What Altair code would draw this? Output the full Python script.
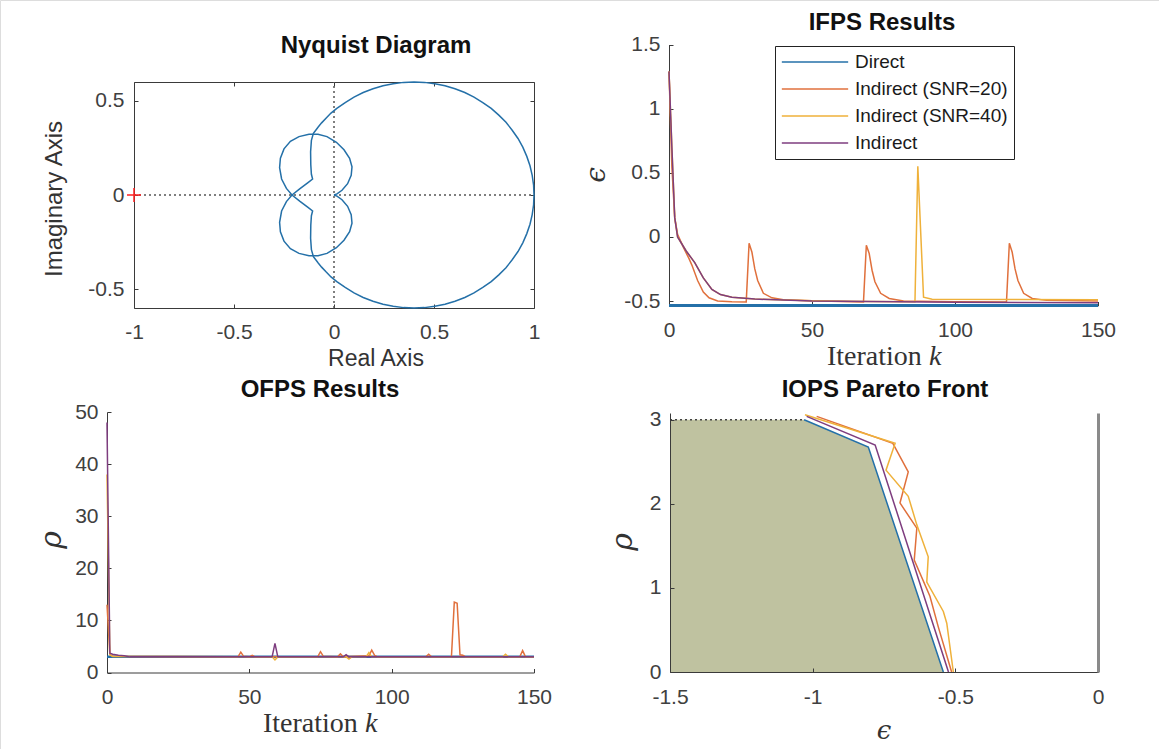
import altair as alt
import pandas as pd

W, H = 1159, 749
FONT = "Liberation Sans"
SERIF = "Liberation Serif"
TICK_COLOR = "#404040"
AX_COLOR = "#3a3a3a"
BLUE = "#2470a8"

# ---------------- data ----------------
series_names = ["Direct", "Indirect (SNR=20)", "Indirect (SNR=40)", "Indirect"]
series_colors = ["#2470a8", "#e0703c", "#efb13a", "#7e3d7f"]

# Nyquist diagram: branch through the lower big loop, then the upper lobe
nyq_re = [1.000, 0.998, 0.991, 0.980, 0.964, 0.944, 0.920, 0.891, 0.860, 0.824,
          0.786, 0.744, 0.700, 0.654, 0.605, 0.555, 0.504, 0.452, 0.400, 0.348,
          0.296, 0.245, 0.195, 0.146, 0.100, 0.056, 0.014, -0.015, -0.040, -0.062,
          -0.080, -0.094, -0.103, -0.113, -0.117, -0.116, -0.113, -0.107, -0.130, -0.170,
          -0.210, -0.238, -0.262, -0.272, -0.268, -0.250, -0.218, -0.175, -0.125, -0.080,
          -0.035, 0.012, 0.050, 0.078, 0.090, 0.086, 0.068, 0.040, 0.015, 0.000]
nyq_im_pos = [0.000, -0.052, -0.104, -0.155, -0.205, -0.254, -0.300, -0.344, -0.386, -0.424,
              -0.460, -0.491, -0.520, -0.544, -0.564, -0.580, -0.591, -0.598, -0.600, -0.598,
              -0.591, -0.580, -0.564, -0.544, -0.520, -0.491, -0.460, -0.435, -0.408, -0.383,
              -0.360, -0.340, -0.327, -0.290, -0.230, -0.160, -0.110, -0.085, -0.066, -0.034,
              0.000, 0.035, 0.085, 0.145, 0.195, 0.245, 0.285, 0.310, 0.322, 0.322,
              0.310, 0.280, 0.240, 0.195, 0.150, 0.105, 0.060, 0.025, 0.006, 0.000]
nyq_im_neg = [0.000, 0.052, 0.104, 0.155, 0.205, 0.254, 0.300, 0.344, 0.386, 0.424,
              0.460, 0.491, 0.520, 0.544, 0.564, 0.580, 0.591, 0.598, 0.600, 0.598,
              0.591, 0.580, 0.564, 0.544, 0.520, 0.491, 0.460, 0.435, 0.408, 0.383,
              0.360, 0.340, 0.327, 0.290, 0.230, 0.160, 0.110, 0.085, 0.066, 0.034,
              0.000, -0.035, -0.085, -0.145, -0.195, -0.245, -0.285, -0.310, -0.322, -0.322,
              -0.310, -0.280, -0.240, -0.195, -0.150, -0.105, -0.060, -0.025, -0.006, 0.000]
crit_re = [-1.0]
crit_im = [0.0]

# IFPS results (epsilon vs iteration)
ifps_direct_k = [0, 150]
ifps_direct_e = [-0.535, -0.535]
ifps_snr20_k = [0, 1, 2, 3, 5, 7, 8, 10, 12, 14, 17, 22, 27, 28, 29, 30, 31, 33, 36, 40,
                50, 60, 68, 69, 70, 71, 72, 74, 77, 82, 100, 118, 119, 120, 121, 122, 124, 127, 132, 150]
ifps_snr20_e = [1.29, 0.55, 0.15, 0.02, -0.08, -0.17, -0.22, -0.34, -0.43, -0.475,
                -0.50, -0.505, -0.507, -0.05, -0.12, -0.25, -0.34, -0.44, -0.475, -0.49,
                -0.498, -0.503, -0.507, -0.065, -0.13, -0.26, -0.35, -0.44, -0.48, -0.50,
                -0.505, -0.508, -0.05, -0.12, -0.25, -0.34, -0.44, -0.48, -0.495, -0.50]
ifps_snr40_k = [0, 1, 2, 3, 6, 9, 12, 15, 18, 22, 30, 50, 70, 86, 87, 89, 92, 150]
ifps_snr40_e = [1.29, 0.7, 0.15, 0.0, -0.11, -0.2, -0.32, -0.41, -0.45, -0.47, -0.485,
                -0.497, -0.503, -0.506, 0.55, -0.47, -0.487, -0.49]
ifps_ind_k = [0, 1, 2, 3, 6, 9, 12, 15, 18, 22, 30, 50, 100, 150]
ifps_ind_e = [1.29, 0.7, 0.15, 0.0, -0.11, -0.2, -0.32, -0.41, -0.45, -0.47, -0.485, -0.5, -0.51, -0.513]

# OFPS results (rho vs iteration)
ofps_direct_k = [0, 150]
ofps_direct_r = [3.0, 3.0]
ofps_snr20_k = [0, 1, 2, 46, 47, 48, 50, 51, 52, 74, 75, 76, 81, 82, 83, 92, 93, 94, 95, 112,
                113, 114, 121, 122, 123, 124, 125, 126, 145, 146, 147, 150]
ofps_snr20_r = [13.0, 3.5, 3.1, 3.0, 3.9, 3.1, 3.0, 3.3, 3.0, 3.0, 4.0, 3.1, 3.0, 3.6, 3.0, 3.2,
                4.3, 3.3, 3.0, 3.0, 3.5, 3.0, 3.0, 13.5, 13.3, 3.4, 3.3, 3.0, 3.0, 4.2, 3.0, 3.0]
ofps_snr40_k = [0, 1, 2, 58, 59, 60, 84, 85, 86, 91, 92, 93, 139, 140, 141, 150]
ofps_snr40_r = [38.0, 3.4, 3.05, 3.0, 2.4, 3.0, 3.0, 2.6, 3.0, 3.0, 3.8, 3.0, 3.0, 3.5, 3.0, 3.0]
ofps_ind_k = [0, 1, 2, 3, 4, 6, 8, 58, 59, 60, 83, 84, 85, 150]
ofps_ind_r = [48.0, 3.7, 3.5, 3.4, 3.3, 3.2, 3.0, 3.0, 5.6, 3.0, 3.0, 3.4, 3.0, 3.0]

# IOPS Pareto front (rho vs epsilon)
iops_fill_e = [-1.5, -1.03, -0.805, -0.542]
iops_fill_r = [3.0, 3.0, 2.675, 0.0]
iops_dot_e = [-1.5, -1.03]
iops_dot_r = [3.0, 3.0]
iops_direct_e = [-1.03, -0.805, -0.542]
iops_direct_r = [3.0, 2.675, 0.0]
iops_snr20_e = [-0.986, -0.719, -0.665, -0.694, -0.635, -0.644, -0.589, -0.56, -0.513]
iops_snr20_r = [3.04, 2.72, 2.38, 2.01, 1.71, 1.33, 0.9, 0.54, 0.0]
iops_snr40_e = [-1.027, -0.711, -0.743, -0.665, -0.635, -0.595, -0.600, -0.542, -0.53, -0.507]
iops_snr40_r = [3.06, 2.72, 2.40, 2.09, 1.75, 1.37, 1.07, 0.72, 0.58, 0.0]
iops_ind_e = [-1.021, -0.781, -0.524]
iops_ind_r = [3.04, 2.70, 0.0]

# tick values
nyq_xt = [-1, -0.5, 0, 0.5, 1]
nyq_yt = [-0.5, 0, 0.5]
ifps_xt = [0, 50, 100, 150]
ifps_yt = [-0.5, 0, 0.5, 1, 1.5]
ofps_xt = [0, 50, 100, 150]
ofps_yt = [0, 10, 20, 30, 40, 50]
iops_xt = [-1.5, -1, -0.5, 0]
iops_yt = [0, 1, 2, 3]


# ---------------- helpers ----------------
def lin(domain, rng):
    return alt.Scale(domain=domain, range=rng, nice=False, zero=False)


def ax_lab(orient, off, values, pad, z=0):
    return alt.Axis(orient=orient, offset=off, values=values, labelExpr="datum.value + ''",
                    ticks=False, tickSize=0, domain=True, domainColor=AX_COLOR, domainWidth=1,
                    labelFont=FONT, labelFontSize=21, labelColor=TICK_COLOR, labelPadding=pad,
                    labelFlush=False, labelOverlap=False, grid=False, title=None, zindex=z)


def ax_tick(orient, off, values, domain=False, z=0):
    return alt.Axis(orient=orient, offset=off, values=values, labels=False, ticks=True,
                    tickSize=4, tickColor=AX_COLOR, tickWidth=1, domain=domain,
                    domainColor=AX_COLOR, domainWidth=1, grid=False, title=None, zindex=z)


def df_xy(xs, ys, name=None):
    d = pd.DataFrame({"x": xs, "y": ys, "o": list(range(len(xs)))})
    if name is not None:
        d["s"] = name
    return d


def line(df, xsc, ysc, xax=None, yax=None, **mk):
    return alt.Chart(df).mark_line(**mk).encode(
        x=alt.X("x:Q", scale=xsc, axis=xax),
        y=alt.Y("y:Q", scale=ysc, axis=yax),
        order="o:Q",
    )


# ---------------- panel 1: Nyquist ----------------
P1L, P1R, P1T, P1B = 134, 534, 82, 308
p1x = lin([-1, 1], [P1L, P1R])
p1y = lin([-0.6, 0.6], [P1B, P1T])

p1_curve_a = line(df_xy(nyq_re, nyq_im_pos), p1x, p1y,
                  ax_lab("bottom", P1B - H, nyq_xt, 13), ax_lab("left", -P1L, nyq_yt, 10),
                  color=BLUE, strokeWidth=1.5)
p1_curve_b = line(df_xy(nyq_re, nyq_im_neg), p1x, p1y,
                  ax_tick("top", -P1B, nyq_xt), ax_tick("right", P1L - W, nyq_yt),
                  color=BLUE, strokeWidth=1.5)
p1_vrule = alt.Chart(pd.DataFrame({"x": [0.0], "y": [-0.6], "y2": [0.6]})).mark_rule(
    color="#555555", strokeDash=[2, 3], strokeWidth=1.5).encode(
    x=alt.X("x:Q", scale=p1x, axis=ax_tick("bottom", P1T - H, nyq_xt, domain=True)),
    y=alt.Y("y:Q", scale=p1y, axis=ax_tick("left", -P1R, nyq_yt, domain=True)),
    y2="y2:Q")
p1_hrule = alt.Chart(pd.DataFrame({"x": [-1.0], "x2": [1.0], "y": [0.0]})).mark_rule(
    color="#555555", strokeDash=[2, 3], strokeWidth=1.5).encode(
    x=alt.X("x:Q", scale=p1x, axis=None), x2="x2:Q",
    y=alt.Y("y:Q", scale=p1y, axis=None))
p1_plus = alt.Chart(pd.DataFrame({"x": crit_re, "y": crit_im})).mark_point(
    shape="M-1,0L1,0M0,-1L0,1", size=196, filled=False, stroke="#ff2020",
    strokeWidth=1.5, opacity=1).encode(
    x=alt.X("x:Q", scale=p1x, axis=None), y=alt.Y("y:Q", scale=p1y, axis=None))
panel1 = alt.layer(p1_vrule, p1_hrule, p1_curve_a, p1_curve_b, p1_plus).resolve_axis(
    x="independent", y="independent")

# ---------------- panel 2: IFPS ----------------
P2L, P2R, P2T, P2B = 669, 1098, 44.5, 305.5
p2x = lin([0, 150], [P2L, P2R])
p2y = lin([-0.535, 1.5], [P2B, P2T])
cscale = alt.Scale(domain=series_names, range=series_colors)
legend = alt.Legend(orient="none", legendX=775, legendY=46, title=None, symbolType="stroke",
                    symbolSize=4400, symbolStrokeWidth=1.5, clipHeight=20, rowPadding=7,
                    labelFont=FONT, labelFontSize=19, labelColor="#1a1a1a", labelOffset=6,
                    padding=6, strokeColor="#222222", fillColor="white", symbolOffset=0,
                    labelLimit=300)


def cline(df, xsc, ysc, xax, yax, leg, **mk):
    return alt.Chart(df).mark_line(**mk).encode(
        x=alt.X("x:Q", scale=xsc, axis=xax),
        y=alt.Y("y:Q", scale=ysc, axis=yax),
        color=alt.Color("s:N", scale=cscale, legend=leg),
        order="o:Q",
    )


p2_direct = cline(df_xy(ifps_direct_k, ifps_direct_e, series_names[0]), p2x, p2y,
                  ax_lab("bottom", P2B - H, ifps_xt, 14), ax_lab("left", -P2L, ifps_yt, 9),
                  legend, strokeWidth=3)
p2_snr20 = cline(df_xy(ifps_snr20_k, ifps_snr20_e, series_names[1]), p2x, p2y,
                 ax_tick("top", -P2B, ifps_xt), ax_tick("right", P2L - W, ifps_yt),
                 None, strokeWidth=1.5)
p2_snr40 = cline(df_xy(ifps_snr40_k, ifps_snr40_e, series_names[2]), p2x, p2y,
                 None, None, None, strokeWidth=1.5)
p2_ind = cline(df_xy(ifps_ind_k, ifps_ind_e, series_names[3]), p2x, p2y,
               None, None, None, strokeWidth=1.5)
panel2 = alt.layer(p2_direct, p2_snr20, p2_snr40, p2_ind).resolve_axis(
    x="independent", y="independent")

# ---------------- panel 3: OFPS ----------------
P3L, P3R, P3T, P3B = 107, 534, 412, 672.5
p3x = lin([0, 150], [P3L, P3R])
p3y = lin([0, 50], [P3B, P3T])
p3_direct = line(df_xy(ofps_direct_k, ofps_direct_r), p3x, p3y,
                 ax_lab("bottom", P3B - H, ofps_xt, 14), ax_lab("left", -P3L, ofps_yt, 9),
                 color=series_colors[0], strokeWidth=2.5)
p3_snr20 = line(df_xy(ofps_snr20_k, ofps_snr20_r), p3x, p3y,
                ax_tick("top", -P3B, ofps_xt), ax_tick("right", P3L - W, ofps_yt),
                color=series_colors[1], strokeWidth=1.5)
p3_snr40 = line(df_xy(ofps_snr40_k, ofps_snr40_r), p3x, p3y, None, None,
                color=series_colors[2], strokeWidth=1.5)
p3_ind = line(df_xy(ofps_ind_k, ofps_ind_r), p3x, p3y, None, None,
              color=series_colors[3], strokeWidth=1.5)
panel3 = alt.layer(p3_direct, p3_snr20, p3_snr40, p3_ind).resolve_axis(
    x="independent", y="independent")

# ---------------- panel 4: IOPS ----------------
P4L, P4R, P4T, P4B = 670, 1098, 413, 672
p4x = lin([-1.5, 0], [P4L, P4R])
p4y = lin([0, 3.08], [P4B, P4T])
p4_fill = alt.Chart(df_xy(iops_fill_e, iops_fill_r)).mark_area(
    color="#bfc2a0", opacity=1).encode(
    x=alt.X("x:Q", scale=p4x, axis=ax_lab("bottom", P4B - H, iops_xt, 14, z=1)),
    y=alt.Y("y:Q", scale=p4y, axis=ax_lab("left", -P4L, iops_yt, 9, z=1)),
    y2=alt.datum(0))
p4_dot = line(df_xy(iops_dot_e, iops_dot_r), p4x, p4y,
              ax_tick("top", -P4B, iops_xt, z=1), ax_tick("right", P4L - W, iops_yt, z=1),
              color="#444444", strokeDash=[2, 3], strokeWidth=1.5)
p4_direct = line(df_xy(iops_direct_e, iops_direct_r), p4x, p4y, None,
                 alt.Axis(orient="right", offset=P4R - W, labels=False, ticks=False,
                          domain=True, domainColor="#8a8a8a", domainWidth=3, grid=False,
                          title=None, zindex=1),
                 color=series_colors[0], strokeWidth=1.5)
p4_snr20 = line(df_xy(iops_snr20_e, iops_snr20_r), p4x, p4y, None, None,
                color=series_colors[1], strokeWidth=1.5)
p4_snr40 = line(df_xy(iops_snr40_e, iops_snr40_r), p4x, p4y, None, None,
                color=series_colors[2], strokeWidth=1.5)
p4_ind = line(df_xy(iops_ind_e, iops_ind_r), p4x, p4y, None, None,
              color=series_colors[3], strokeWidth=1.5)
panel4 = alt.layer(p4_fill, p4_dot, p4_direct, p4_snr20, p4_snr40, p4_ind).resolve_axis(
    x="independent", y="independent")


# ---------------- texts ----------------
def txt(t, x, y, size=24, bold=False, angle=0, font=FONT, italic=False, color="#111111",
        align="center"):
    return alt.Chart(pd.DataFrame({"t": [t]})).mark_text(
        font=font, fontSize=size, fontWeight="bold" if bold else "normal",
        fontStyle="italic" if italic else "normal", angle=angle, align=align,
        baseline="middle", color=color).encode(
        text="t:N", x=alt.value(x), y=alt.value(y))


texts = [
    txt("Nyquist Diagram", 376, 46, bold=True),
    txt("Real Axis", 376, 359, size=23, color="#333333"),
    txt("Imaginary Axis", 55, 199, angle=270, color="#333333"),
    txt("IFPS Results", 882, 23, bold=True),
    txt("ϵ", 597, 175, size=28, font="DejaVu Serif", italic=True, angle=270, color="#333333"),
    txt("Iteration", 827, 357, size=28, font=SERIF, align="left", color="#333333"),
    txt("k", 929, 357, size=28, font=SERIF, italic=True, align="left", color="#333333"),
    txt("OFPS Results", 320, 390, bold=True),
    txt("ρ", 52, 540, size=30, font="DejaVu Serif", italic=True, angle=270, color="#333333"),
    txt("Iteration", 263, 724, size=28, font=SERIF, align="left", color="#333333"),
    txt("k", 365, 724, size=28, font=SERIF, italic=True, align="left", color="#333333"),
    txt("IOPS Pareto Front", 885, 390, bold=True),
    txt("ρ", 623, 542, size=30, font="DejaVu Serif", italic=True, angle=270, color="#333333"),
    txt("ϵ", 884, 731, size=26, font="DejaVu Serif", italic=True, color="#333333"),
]

chart = alt.layer(panel1, panel2, panel3, panel4, *texts).resolve_scale(
    x="independent", y="independent"
).properties(
    width=W, height=H, padding=0, autosize="none"
).configure_view(stroke="transparent").configure(background="white")

chart.save("out.html", embed_options={"renderer": "svg", "actions": False})
